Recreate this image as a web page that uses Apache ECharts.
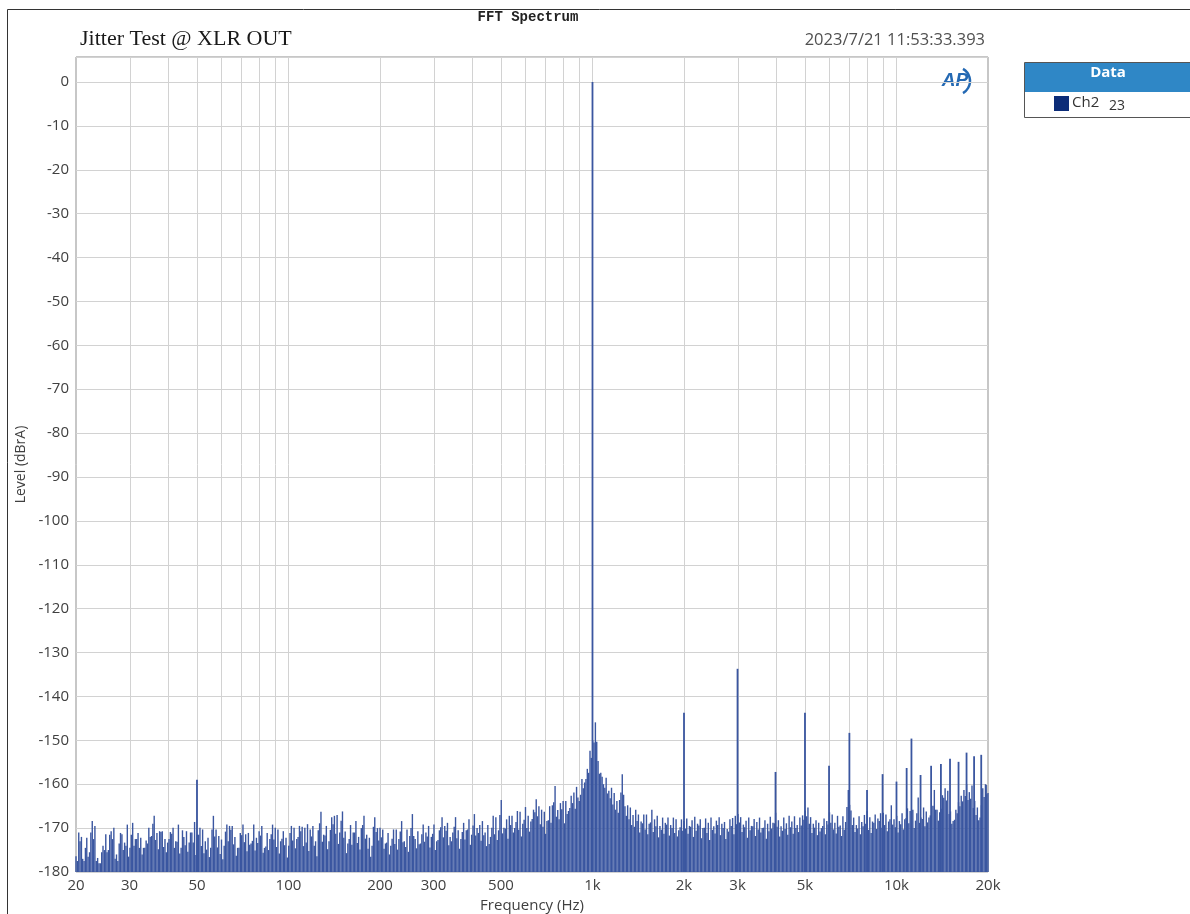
<!DOCTYPE html>
<html>
<head>
<meta charset="utf-8">
<title>FFT Spectrum</title>
<script src="https://cdn.jsdelivr.net/npm/echarts@6/dist/echarts.min.js"></script>
<style>
  html, body { margin: 0; padding: 0; background: #ffffff; }
  #chart { width: 1190px; height: 914px; }
</style>
</head>
<body>
<div id="chart"></div>
<script>
// FFT bin positions within one decade (multiples of the decade start frequency)
const binMantissa = [
  1.000, 1.021, 1.042, 1.063, 1.085, 1.108, 1.131, 1.154, 1.178, 1.202,
  1.227, 1.253, 1.278, 1.305, 1.332, 1.359, 1.387, 1.416, 1.445, 1.475,
  1.505, 1.536, 1.568, 1.600, 1.633, 1.667, 1.701, 1.736, 1.772, 1.808,
  1.846, 1.884, 1.922, 1.962, 2.002, 2.044, 2.086, 2.129, 2.172, 2.217,
  2.263, 2.309, 2.357, 2.405, 2.455, 2.505, 2.557, 2.609, 2.663, 2.718,
  2.774, 2.831, 2.889, 2.949, 3.010, 3.072, 3.135, 3.199, 3.265, 3.332,
  3.401, 3.471, 3.542, 3.615, 3.690, 3.766, 3.843, 3.922, 4.003, 4.085,
  4.169, 4.255, 4.343, 4.432, 4.523, 4.616, 4.711, 4.808, 4.907, 5.008,
  5.111, 5.216, 5.324, 5.433, 5.545, 5.659, 5.775, 5.894, 6.015, 6.139,
  6.265, 6.394, 6.526, 6.660, 6.797, 6.937, 7.080, 7.226, 7.374, 7.526,
  7.681, 7.839, 8.000, 8.165, 8.333, 8.505, 8.680, 8.858, 9.041, 9.227,
  9.417, 9.611, 9.809
];
// the bins that fall between the ones above
const binMantissaMid = [
  1.010, 1.031, 1.052, 1.074, 1.096, 1.119, 1.142, 1.166, 1.190, 1.215,
  1.240, 1.265, 1.291, 1.318, 1.345, 1.373, 1.401, 1.430, 1.460, 1.490,
  1.520, 1.552, 1.584, 1.616, 1.650, 1.684, 1.718, 1.754, 1.790, 1.827,
  1.865, 1.903, 1.942, 1.982, 2.023, 2.065, 2.107, 2.150, 2.195, 2.240,
  2.286, 2.333, 2.381, 2.430, 2.480, 2.531, 2.583, 2.636, 2.690, 2.746,
  2.802, 2.860, 2.919, 2.979, 3.041, 3.103, 3.167, 3.232, 3.298, 3.366,
  3.436, 3.506, 3.578, 3.652, 3.728, 3.804, 3.882, 3.962, 4.044, 4.127,
  4.212, 4.299, 4.387, 4.477, 4.569, 4.663, 4.759, 4.857, 4.957, 5.059,
  5.163, 5.270, 5.378, 5.489, 5.602, 5.717, 5.834, 5.954, 6.077, 6.202,
  6.329, 6.460, 6.593, 6.728, 6.867, 7.008, 7.153, 7.300, 7.450, 7.603,
  7.760, 7.919, 8.082, 8.249, 8.419, 8.592, 8.769, 8.949, 9.134, 9.322,
  9.514, 9.710, 9.909
];

// Noise floor levels (dBrA), 20 Hz..200 Hz
const noise20 = [
  -176.4, -171, -172, -177.5, -172.2, -175.5, -168.4, -169.5, -176.8, -178,
  -174, -171.4, -175, -170.7, -169.9, -176, -173.5, -171.4, -173.3, -169.2,
  -174.5, -168.8, -172.5, -171.1, -172.2, -174.5, -172.8, -169.9, -171.8, -167.2,
  -171.1, -170.7, -170.7, -172.5, -173.3, -170.9, -169.9, -173, -169.2, -174.5,
  -172, -170.7, -173.3, -171, -168.6, -171.5, -169.9, -170.3, -173, -172.2,
  -174.5, -167.2, -170.3, -171.8, -172.6, -174, -169.2, -169.5, -169.5, -172,
  -174.5, -171.1, -169.2, -171.4, -171.1, -173.5, -169.2, -172.2, -170.7, -169.5,
  -174.5, -171.1, -172.5, -169.2, -169.9, -170.3, -173, -170.7, -172.2, -174,
  -169.5, -169.9, -172.5, -169.5, -169.7, -169.9, -169.1, -170.3, -169.5, -173,
  -170.5, -166.3, -171.5, -169.5, -173, -167.5, -167.2, -167, -171, -166.2,
  -170.8, -173.5, -169.3, -171, -168.4, -172, -170, -167.2, -171.5, -172.2,
  -174, -167.5, -170
];
const noise20Mid = [
  -177.5, -173, -177, -174.5, -176.5, -171, -172.5, -177.5, -178, -175.5,
  -175, -175.5, -171.5, -172.5, -177, -177.5, -171.1, -175, -174, -176.5,
  -171.5, -174, -172.5, -174.5, -176, -174.5, -173.5, -172, -169, -172.7,
  -174.8, -170.9, -174.3, -175.5, -172.5, -171.3, -174.5, -173.1, -175.8, -170.5,
  -173.9, -175.4, -171, -173.3, -176.1, -171.5, -174.1, -175.7, -174.9, -176.6,
  -170.3, -171.9, -174.4, -175.9, -177.1, -170.8, -173, -170.4, -173.7, -176.3,
  -174.5, -171.6, -173.2, -175.3, -173.8, -172.9, -175.1, -173.4, -171.7, -175.6,
  -174.2, -175, -171.4, -172.6, -174.3, -175.8, -172.4, -173.9, -176.7, -171.1,
  -172.8, -174.6, -172, -170.7, -174.1, -173.3, -175.2, -171.9, -174, -176.4,
  -168.9, -173.1, -171.7, -174.8, -170.4, -169.1, -171.3, -173.6, -168.3, -172.2,
  -175.7, -172.5, -173.8, -171, -173.4, -174.9, -169.3, -172.4, -174.7, -176.5,
  -169.7, -170.9, -172.8
];

// 200 Hz..2 kHz, including the skirt round the 1 kHz test tone
const noise200 = [
  -169.9, -170.3, -173.5, -171.1, -174, -170.3, -170.3, -172.5, -168.4, -173,
  -170.3, -171.8, -166.8, -172.5, -170.7, -173.5, -169.2, -171, -169.5, -172,
  -169.2, -173, -170.5, -167.5, -169.5, -168.8, -172, -171, -167.5, -170.5,
  -172.5, -168.8, -170.5, -168, -171.5, -166.8, -170, -169.3, -168.4, -171,
  -169.3, -172, -167.2, -167.5, -170.5, -163.6, -169.9, -168, -167.2, -167.2,
  -170, -166.1, -166.3, -169, -165.2, -167.2, -168.5, -165.8, -163.4, -165,
  -165.8, -166.3, -168.4, -165, -164.8, -160.4, -165.9, -164.3, -163.8, -163.8,
  -166.1, -162.6, -161.9, -160.6, -163.8, -158.8, -159.6, -156.5, -152.4, -150,
  -145.9, -154.7, -157.4, -160, -158.5, -161.5, -160.8, -162, -163.8, -163.6,
  -157.7, -165, -164.8, -165.3, -167, -165.8, -166.9, -168.5, -166.9, -166.9,
  -169, -165.8, -168, -167.2, -169.5, -167.6, -168.8, -167.6, -169.3, -167.6,
  -168, -170.5, -168
];
const noise200Mid = [
  -172.1, -174.7, -173.3, -176, -172.4, -173.6, -174.9, -170.8, -173.2, -174.3,
  -175.4, -170, -171.8, -174.6, -173.7, -171.4, -173.1, -171.9, -174.4, -171.3,
  -175, -172.7, -169.8, -172.1, -170.6, -173.9, -173, -169.7, -172.3, -174.7,
  -170.9, -172.6, -170.3, -173.8, -169.4, -171.7, -171.1, -172.9, -171.6, -174.1,
  -173.6, -169.9, -171.4, -172.7, -167, -171.2, -170.1, -172.4, -169.3, -171,
  -168.6, -170.4, -171.9, -168.1, -170, -170.8, -167.9, -166.4, -167.3, -169.1,
  -169.7, -171.3, -168.2, -168.8, -164.1, -167.4, -168, -165.7, -168.9, -166.8,
  -165.4, -164.3, -165.6, -163, -162.4, -160.9, -158.8, -157.4, -154, -150.5,
  -150.3, -157.6, -158.3, -160.8, -162.1, -163.2, -164.6, -165.8, -166.5, -161.9,
  -162.4, -167.2, -168, -169.3, -169.7, -168.4, -171, -168.9, -170.3, -171.4,
  -168.7, -170.9, -169.6, -172.1, -170.4, -171.3, -169.2, -171.7, -170, -171.1,
  -171.9, -169.8, -170.6
];

// 2 kHz..20 kHz
const noise2k = [
  -168.4, -167.8, -169.5, -168.2, -167.4, -169, -168, -170, -167.8, -168.8,
  -167.6, -169.6, -168.3, -167.5, -169, -168.6, -170.2, -168, -167.7, -167.2,
  -166.8, -167.5, -169.2, -168.3, -167.6, -169.5, -167.9, -168.6, -167.6, -170,
  -168.2, -169, -167.4, -168.8, -166.5, -168.2, -169.6, -167.6, -168.9, -167.2,
  -168.5, -167.3, -169.3, -167.6, -167.1, -166, -165.3, -167.5, -169, -168.2,
  -168.8, -170, -167.8, -168.4, -166.4, -166.9, -168.8, -167.2, -169.4, -167.3,
  -168.6, -161.3, -166, -167.6, -169.3, -167.3, -168.6, -167, -166.1, -167.5,
  -168.5, -166.9, -167.8, -166.6, -166.5, -166.9, -168.5, -164.8, -168, -167.2,
  -168.4, -166.6, -168, -165.5, -166.1, -165.8, -168.3, -163, -167.6, -165.3,
  -166.2, -167.6, -165, -161.3, -165.8, -166.4, -162.5, -160.9, -161.5, -166.2,
  -168.4, -165.8, -164.1, -162.6, -161.3, -160, -161.8, -160.3, -163.8, -165.3,
  -167.6, -160.9, -160
];
const noise2kMid = [
  -170.1, -171.3, -169.7, -172, -170.6, -169.4, -172.3, -169.9, -171.1, -172.7,
  -170.4, -171.2, -169.3, -171.6, -170, -172.5, -170.8, -169.5, -171.4, -169.1,
  -168.7, -170.9, -169.8, -172.2, -170.5, -169.6, -171.8, -170.3, -171, -169.9,
  -172.4, -170.7, -170.1, -168.9, -169.7, -171.9, -170.6, -170.2, -171.5, -169.8,
  -171.3, -170, -170.9, -169.4, -168.1, -167.3, -169, -171.1, -169.9, -171.6,
  -170.8, -169.5, -171.4, -169.2, -168.8, -170.3, -171.2, -169.7, -171.8, -170.4,
  -165.2, -164.7, -169.3, -170.9, -170.1, -171.4, -169.6, -169, -170.4, -171.1,
  -168.8, -170.2, -168.4, -169.9, -169.3, -170.7, -168, -169.2, -169.8, -171,
  -169.1, -170.3, -167.7, -168.9, -168.2, -170, -166.6, -168.8, -167.9, -169.6,
  -168.7, -167.1, -164.9, -165.8, -168.3, -165.6, -163.1, -163.7, -166.8, -169,
  -168.1, -166.6, -165, -163.9, -162.7, -163.6, -163.3, -165.4, -167, -168.2,
  -164.8, -162.9, -162.3
];
const noiseEnd = [20000, -162];

// Discrete tones: mains hum, the 1 kHz fundamental and its harmonics
const toneFreqs = [50, 1000, 2000, 3000, 4000, 5000, 6000, 7000, 8000, 9000,
  10000, 10800, 11200, 12000, 13000, 14000, 15000, 16000, 17000, 18000, 19000, 19700];
const toneLevels = [-159, 0, -143.7, -133.7, -157.2, -143.7, -155.8, -148.3, -161.3, -157.7,
  -159.4, -156.3, -149.6, -157.9, -155.8, -155.4, -154.2, -154.9, -152.8, -153.6, -153.3, -160.2];

// Frequency axis ticks
const gridFreqs = [30, 40, 50, 60, 70, 80, 90, 100, 200, 300, 400, 500, 600, 700, 800, 900,
  1000, 2000, 3000, 4000, 5000, 6000, 7000, 8000, 9000, 10000];
const labelFreqs = [20, 30, 50, 100, 200, 300, 500, 1000, 2000, 3000, 5000, 10000, 20000];
const labelTexts = ['20', '30', '50', '100', '200', '300', '500', '1k', '2k', '3k', '5k', '10k', '20k'];

const LEVEL_MIN = -180;
const LEVEL_MAX = 5.7;
const TRACE = '#3a56a0';
const TEXT = '#404040';
const FONT = '"Open Sans", "Noto Sans", sans-serif';

// Assemble the spectrum points from the per-decade tables
const decades = [
  [20, noise20, noise20Mid],
  [200, noise200, noise200Mid],
  [2000, noise2k, noise2kMid]
];
const spectrum = [];
decades.forEach(([start, levels, midLevels]) => {
  levels.forEach((lv, i) => {
    spectrum.push([start * binMantissa[i], lv]);
    spectrum.push([start * binMantissaMid[i], midLevels[i]]);
  });
});
spectrum.push(noiseEnd);
const tones = toneFreqs.map((f, i) => [f, toneLevels[i]]);

function spikeItem(width) {
  return function (params, api) {
    const top = api.coord([api.value(0), api.value(1)]);
    const base = api.coord([api.value(0), LEVEL_MIN]);
    return {
      type: 'line',
      shape: { x1: top[0], y1: top[1], x2: base[0], y2: base[1] },
      style: { stroke: TRACE, lineWidth: width }
    };
  };
}

const chart = echarts.init(document.getElementById('chart'), null, { renderer: 'canvas' });

chart.setOption({
  animation: false,
  backgroundColor: '#ffffff',
  grid: {
    left: 76, right: 202, top: 57, height: 815,
    outerBoundsMode: 'none', containLabel: false,
    show: true, borderColor: '#8f8f8f', borderWidth: 1, backgroundColor: '#ffffff'
  },
  xAxis: {
    type: 'log', logBase: 10, min: 20, max: 20000,
    axisLine: { show: false }, axisTick: { show: false },
    axisLabel: { show: false }, splitLine: { show: false },
    name: 'Frequency (Hz)', nameLocation: 'middle', nameGap: 26,
    nameTextStyle: { fontSize: 15, color: TEXT, fontFamily: FONT }
  },
  yAxis: {
    type: 'value', min: LEVEL_MIN, max: LEVEL_MAX, interval: 10,
    axisLine: { show: false }, axisTick: { show: false },
    axisLabel: {
      fontSize: 15, color: TEXT, fontFamily: FONT, margin: 7, showMaxLabel: false,
      formatter: v => (v > 0 ? '' : String(v))
    },
    splitLine: { lineStyle: { color: '#d2d2d2', width: 1 } },
    name: 'Level (dBrA)', nameLocation: 'middle', nameGap: 45,
    nameTextStyle: { fontSize: 14, color: TEXT, fontFamily: FONT }
  },
  series: [
    {
      // vertical grid lines at every 1-2-3...9 step of each decade
      type: 'custom', name: 'grid', z: 1, silent: true,
      data: gridFreqs.map(f => [f, LEVEL_MIN]),
      encode: { x: 0, y: 1 },
      renderItem: function (params, api) {
        const b = api.coord([api.value(0), LEVEL_MIN]);
        const t = api.coord([api.value(0), LEVEL_MAX]);
        return {
          type: 'line',
          shape: { x1: Math.round(b[0]) + 0.5, y1: b[1], x2: Math.round(b[0]) + 0.5, y2: t[1] },
          style: { stroke: '#d2d2d2', lineWidth: 1 }
        };
      }
    },
    {
      // frequency tick labels
      type: 'custom', name: 'ticks', z: 2, silent: true, clip: false,
      data: labelFreqs.map(f => [f, LEVEL_MIN]),
      encode: { x: 0, y: 1 },
      renderItem: function (params, api) {
        const p = api.coord([api.value(0), LEVEL_MIN]);
        return {
          type: 'text',
          x: p[0], y: p[1] + 6,
          style: {
            text: labelTexts[params.dataIndex], align: 'center', verticalAlign: 'top',
            fontSize: 15, fontFamily: FONT, fill: TEXT
          }
        };
      }
    },
    {
      type: 'custom', name: 'Ch2 23', z: 3, silent: true,
      data: spectrum, encode: { x: 0, y: 1 },
      renderItem: spikeItem(1.4)
    },
    {
      type: 'custom', name: 'tones', z: 4, silent: true,
      data: tones, encode: { x: 0, y: 1 },
      renderItem: spikeItem(1.8)
    }
  ],
  graphic: [
    {
      type: 'rect', silent: true, z: 0,
      shape: { x: 7.5, y: 9.5, width: 1300, height: 1000 },
      style: { fill: 'none', stroke: '#333333', lineWidth: 1 }
    },
    {
      type: 'text', silent: true, x: 528, y: 17,
      style: { text: 'FFT Spectrum', align: 'center', verticalAlign: 'middle',
        fontSize: 14, fontWeight: 'bold', fontFamily: '"Liberation Mono", "DejaVu Sans Mono", monospace', fill: '#222222' }
    },
    {
      type: 'text', silent: true, x: 80, y: 39,
      style: { text: 'Jitter Test @ XLR OUT', align: 'left', verticalAlign: 'middle',
        fontSize: 22, fontFamily: '"Liberation Serif", "DejaVu Serif", serif', fill: '#1a1a1a' }
    },
    {
      type: 'text', silent: true, x: 985, y: 40,
      style: { text: '2023/7/21 11:53:33.393', align: 'right', verticalAlign: 'middle',
        fontSize: 16.5, fontFamily: FONT, fill: '#505050' }
    },
    {
      type: 'text', silent: true, x: 955, y: 81,
      style: { text: 'AP', align: 'center', verticalAlign: 'middle',
        fontSize: 19, fontWeight: 'bold', fontStyle: 'italic', fontFamily: '"Liberation Sans", sans-serif', fill: '#2469b3' }
    },
    {
      type: 'arc', silent: true,
      shape: { cx: 956, cy: 81, r: 14, startAngle: -Math.PI / 3, endAngle: Math.PI / 3 },
      style: { stroke: '#2469b3', lineWidth: 2.5, fill: 'none' }
    },
    {
      type: 'rect', silent: true,
      shape: { x: 1024.5, y: 62.5, width: 200, height: 55 },
      style: { fill: '#ffffff', stroke: '#555555', lineWidth: 1 }
    },
    {
      type: 'rect', silent: true,
      shape: { x: 1025, y: 63, width: 200, height: 29 },
      style: { fill: '#2f87c6' }
    },
    {
      type: 'text', silent: true, x: 1108, y: 73,
      style: { text: 'Data', align: 'center', verticalAlign: 'middle',
        fontSize: 15, fontWeight: 'bold', fontFamily: FONT, fill: '#ffffff' }
    },
    {
      type: 'rect', silent: true,
      shape: { x: 1054, y: 96, width: 15, height: 15 },
      style: { fill: '#0c2c78' }
    },
    {
      type: 'text', silent: true, x: 1072, y: 103,
      style: { text: 'Ch2', align: 'left', verticalAlign: 'middle',
        fontSize: 15, fontFamily: FONT, fill: '#333333' }
    },
    {
      type: 'text', silent: true, x: 1109, y: 106,
      style: { text: '23', align: 'left', verticalAlign: 'middle',
        fontSize: 14, fontFamily: FONT, fill: '#333333' }
    }
  ]
});
</script>
</body>
</html>
